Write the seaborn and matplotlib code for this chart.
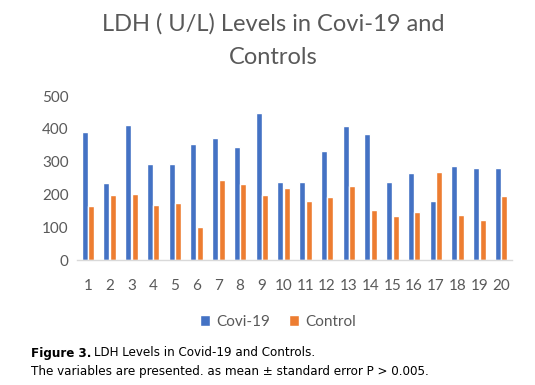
import matplotlib
matplotlib.use("Agg")
import matplotlib.pyplot as plt
import seaborn as sns
import pandas as pd

categories = [str(i) for i in range(1, 21)]
covid = [390, 235, 412, 293, 293, 354, 372, 345, 448, 238,
         238, 332, 409, 384, 238, 265, 180, 287, 280, 280]
control = [165, 198, 201, 168, 174, 101, 244, 232, 198, 220,
           180, 192, 226, 152, 134, 146, 268, 137, 123, 195]
series_names = ["Covi-19", "Control"]
yticks = [0, 100, 200, 300, 400, 500]

df = pd.DataFrame({
    "cat": categories * 2,
    "value": covid + control,
    "series": [series_names[0]] * 20 + [series_names[1]] * 20,
})

sns.set_theme(style="white")
plt.rcParams["font.family"] = ["Lato", "DejaVu Sans"]

W, H = 535, 385
fig = plt.figure(figsize=(W / 100, H / 100), dpi=100)
ax = fig.add_axes([77 / W, 1 - 260 / H, (512 - 77) / W, (260 - 96) / H])

sns.barplot(data=df, x="cat", y="value", hue="series", order=categories,
            hue_order=series_names, palette=["#4472C4", "#ED7D31"],
            width=0.58, gap=0.05, ax=ax, legend=False, saturation=1,
            errorbar=None)

ax.set_xlim(-0.5, 19.5)
ax.set_ylim(0, 500)
ax.set_yticks(yticks)
ax.set_yticklabels([str(v) for v in yticks])
ax.set_xlabel("")
ax.set_ylabel("")
for s in ["top", "right", "left"]:
    ax.spines[s].set_visible(False)
ax.spines["bottom"].set_color("#D9D9D9")
ax.spines["bottom"].set_linewidth(1)
ax.tick_params(axis="both", length=0, colors="#595959", labelsize=11)
ax.tick_params(axis="x", pad=14)
ax.tick_params(axis="y", pad=6)

fig.text(0.51, 1 - 24 / H, "LDH ( U/L) Levels in Covi-19 and", ha="center",
         va="center", fontsize=17, color="#595959")
fig.text(0.51, 1 - 57 / H, "Controls", ha="center", va="center",
         fontsize=17, color="#595959")

# legend
from matplotlib.patches import Patch
handles = [Patch(facecolor="#4472C4"), Patch(facecolor="#ED7D31")]
fig.legend(handles, series_names, loc="center", bbox_to_anchor=(278 / W, 1 - 322 / H),
           ncol=2, frameon=False, fontsize=11, handlelength=0.7, handleheight=0.7,
           handletextpad=0.4, columnspacing=1.2, labelcolor="#595959")

# caption
cap_kw = dict(family="DejaVu Sans", stretch="condensed", fontsize=9.5,
              color="black", va="center", ha="left")
fig.canvas.draw()
r = fig.canvas.get_renderer()
t1 = fig.text(31 / W, 1 - 353 / H, "Figure 3.", fontweight="bold", **cap_kw)
bb = t1.get_window_extent(renderer=r)
fig.text((bb.x1 + 3) / W, 1 - 353 / H, "LDH Levels in Covid-19 and Controls.", **cap_kw)
fig.text(31 / W, 1 - 372 / H,
         "The variables are presented. as mean \u00b1 standard error P > 0.005.", **cap_kw)

fig.savefig("out.png", dpi=100)
